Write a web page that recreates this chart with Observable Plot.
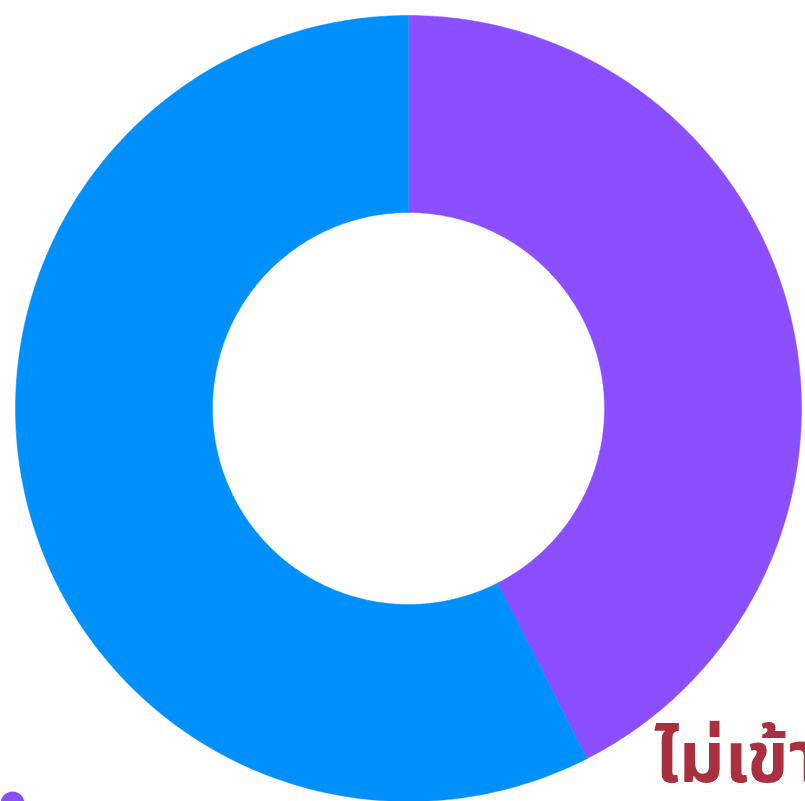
<!DOCTYPE html>
<html>
<head>
<meta charset="utf-8">
<script src="https://cdn.jsdelivr.net/npm/d3@7"></script>
<script src="https://cdn.jsdelivr.net/npm/@observablehq/plot@0.6"></script>
<style>
  html, body { margin: 0; padding: 0; background: #ffffff; }
  #chart svg { display: block; }
</style>
</head>
<body>
<div id="chart"></div>
<script>
// Data
const categories = ["ไม่เข้าร่วม", "เข้าร่วม"];
const values = [42.5, 57.5];
const colors = ["#8c4fff", "#0090fb"];
const labelText = "ไม่เข้าร่วม";

const innerRatio = 196 / 393;

// Build slice polygons (in unit-radius coordinates) from the pie layout
const pie = d3.pie().sort(null).value(d => d.value);
const arcs = pie(categories.map((c, i) => ({ name: c, value: values[i] })));
const polys = [];
for (const a of arcs) {
  const n = 360;
  const pts = [];
  for (let k = 0; k <= n; k++) {
    const t = a.startAngle + (a.endAngle - a.startAngle) * k / n;
    pts.push({ name: a.data.name, x: Math.sin(t), y: Math.cos(t) });
  }
  for (let k = n; k >= 0; k--) {
    const t = a.startAngle + (a.endAngle - a.startAngle) * k / n;
    pts.push({ name: a.data.name, x: innerRatio * Math.sin(t), y: innerRatio * Math.cos(t) });
  }
  polys.push(...pts);
}

const chart = Plot.plot({
  width: 805,
  height: 801,
  marginLeft: 15,
  marginRight: 4,
  marginTop: 15,
  marginBottom: 0,
  x: { domain: [-1, 1], axis: null },
  y: { domain: [-1, 1], axis: null },
  color: { domain: categories, range: colors },
  style: { background: "#ffffff", overflow: "hidden" },
  marks: [
    Plot.line(polys, {
      x: "x", y: "y", z: "name", fill: "name", stroke: "name",
      strokeWidth: 0.5, curve: "linear-closed"
    }),
    Plot.dot([categories[0]], {
      frameAnchor: "bottom-left", dx: -3, dy: 2, r: 12, fill: d => d
    }),
    Plot.text([labelText], {
      x: () => 0.625, y: () => -0.95, text: d => d,
      textAnchor: "start", lineAnchor: "bottom",
      fontSize: 71, fontWeight: "bold", fill: "#a8303f",
      fontFamily: "'Noto Sans Thai', 'Noto Sans', sans-serif"
    })
  ]
});
document.getElementById("chart").appendChild(chart);
</script>
</body>
</html>
